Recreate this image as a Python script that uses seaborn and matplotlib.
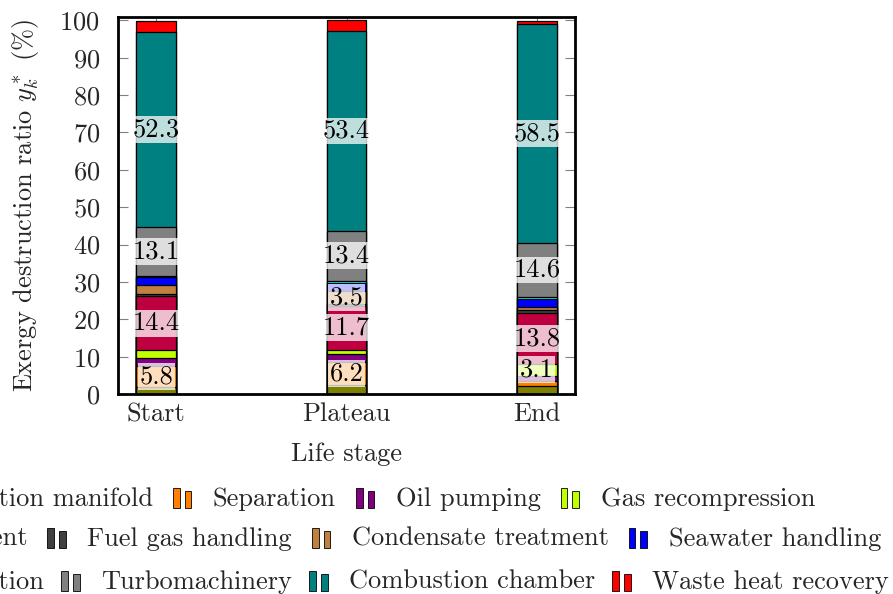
import numpy as np
import pandas as pd
import matplotlib
matplotlib.use("Agg")
import matplotlib.pyplot as plt
import seaborn as sns
from matplotlib.legend_handler import HandlerBase
from matplotlib.patches import Rectangle, Patch

# ---------------- data ----------------
stages = ["Start", "Plateau", "End"]
components = ["Production manifold", "Separation", "Oil pumping", "Gas recompression",
              "Gas treatment", "Fuel gas handling", "Condensate treatment", "Seawater handling",
              "Gas injection", "Turbomachinery", "Combustion chamber", "Waste heat recovery"]
colors = ["#808000", "#FF8000", "#800080", "#BFFF00",
          "#BF0040", "#404040", "#BF8040", "#0000FF",
          "#00FFFF", "#808080", "#008080", "#FF0000"]

production_manifold = [1.8, 2.4, 2.2]
separation = [5.8, 6.2, 1.3]
oil_pumping = [2.1, 2.2, 1.4]
gas_recompression = [2.0, 1.1, 3.1]
gas_treatment = [14.4, 11.7, 13.8]
fuel_gas_handling = [0.7, 0.4, 0.6]
condensate_treatment = [2.5, 3.5, 1.0]
seawater_handling = [2.0, 2.3, 2.0]
gas_injection = [0.3, 0.5, 0.5]
turbomachinery = [13.1, 13.4, 14.6]
combustion_chamber = [52.3, 53.4, 58.5]
waste_heat_recovery = [2.9, 2.9, 0.9]

series = [production_manifold, separation, oil_pumping, gas_recompression,
          gas_treatment, fuel_gas_handling, condensate_treatment, seawater_handling,
          gas_injection, turbomachinery, combustion_chamber, waste_heat_recovery]

yticks = [0, 10, 20, 30, 40, 50, 60, 70, 80, 90, 100]

# ---------------- style ----------------
sns.set_theme(style="white")
plt.rcParams["font.family"] = ["cmr10", "DejaVu Serif"]
plt.rcParams["mathtext.fontset"] = "cm"
plt.rcParams["axes.formatter.use_mathtext"] = True
plt.rcParams["axes.unicode_minus"] = False
FS = 19

fig = plt.figure(figsize=(8.93, 5.94), dpi=100)
ax = fig.add_axes([118 / 893, 1 - 394 / 594, (575 - 118) / 893, (394 - 17) / 594])

vals = np.array(series)
cum = np.cumsum(vals, axis=0)
df = pd.DataFrame({"stage": stages})

for i in reversed(range(len(components))):
    df["top"] = cum[i]
    sns.barplot(data=df, x="stage", y="top", order=stages, color=colors[i],
                saturation=1, width=0.21, edgecolor="black", linewidth=0.9, ax=ax)

# value labels
for j in range(len(stages)):
    for i in range(len(components)):
        v = vals[i, j]
        if v > 3.0:
            base = cum[i, j] - v
            ax.text(j, base + v / 2, f"{v:.1f}", ha="center", va="center", fontsize=FS,
                    color="black", zorder=10,
                    bbox=dict(boxstyle="square,pad=0.06", fc="white", alpha=0.75, ec="none"))

ax.set_xlim(-0.2, 2.2)
ax.set_ylim(0, 100.9)
ax.set_yticks(yticks)
ax.set_xlabel("Life stage", fontsize=FS, labelpad=12)
ax.set_ylabel(r"Exergy destruction ratio $y_k^*$ (%)", fontsize=FS, labelpad=13)
ax.tick_params(axis="both", which="major", direction="in", length=7, width=0.8,
               color="#808080", labelsize=FS, top=True, right=True, left=True, bottom=True)
ax.tick_params(axis="y", pad=13)
ax.tick_params(axis="x", pad=6)
for s in ax.spines.values():
    s.set_visible(True)
    s.set_color("black")
    s.set_linewidth(2.0)
    s.set_zorder(20)


# legend with two small bars per entry
class TwoBars(HandlerBase):
    def create_artists(self, legend, orig_handle, xdescent, ydescent, width, height,
                       fontsize, trans):
        fc = orig_handle.get_facecolor()
        x0, y0 = -xdescent, -ydescent - 0.1 * height
        bw = width * 0.36
        r1 = Rectangle((x0, y0), bw, height * 1.05, facecolor=fc, edgecolor="black",
                       linewidth=0.6, transform=trans)
        r2 = Rectangle((x0 + width * 0.62, y0), bw, height * 0.9, facecolor=fc,
                       edgecolor="black", linewidth=0.6, transform=trans)
        return [r1, r2]


handles = [Patch(facecolor=c, label=n) for c, n in zip(colors, components)]
row_right = [815, 881, 889]
row_center = [499, 539, 582]
row_colspace = [0.75, 0.75, 0.64]
for r in range(3):
    hs = handles[4 * r:4 * r + 4]
    labs = components[4 * r:4 * r + 4]
    fig.legend(hs, labs, loc="center right",
               bbox_to_anchor=(row_right[r] / 893, 1 - row_center[r] / 594), ncol=4,
               frameon=False, fontsize=FS, handler_map={Patch: TwoBars()},
               handlelength=0.72, handletextpad=0.8, columnspacing=row_colspace[r],
               borderpad=0, borderaxespad=0)

fig.savefig("out.png", dpi=100)
